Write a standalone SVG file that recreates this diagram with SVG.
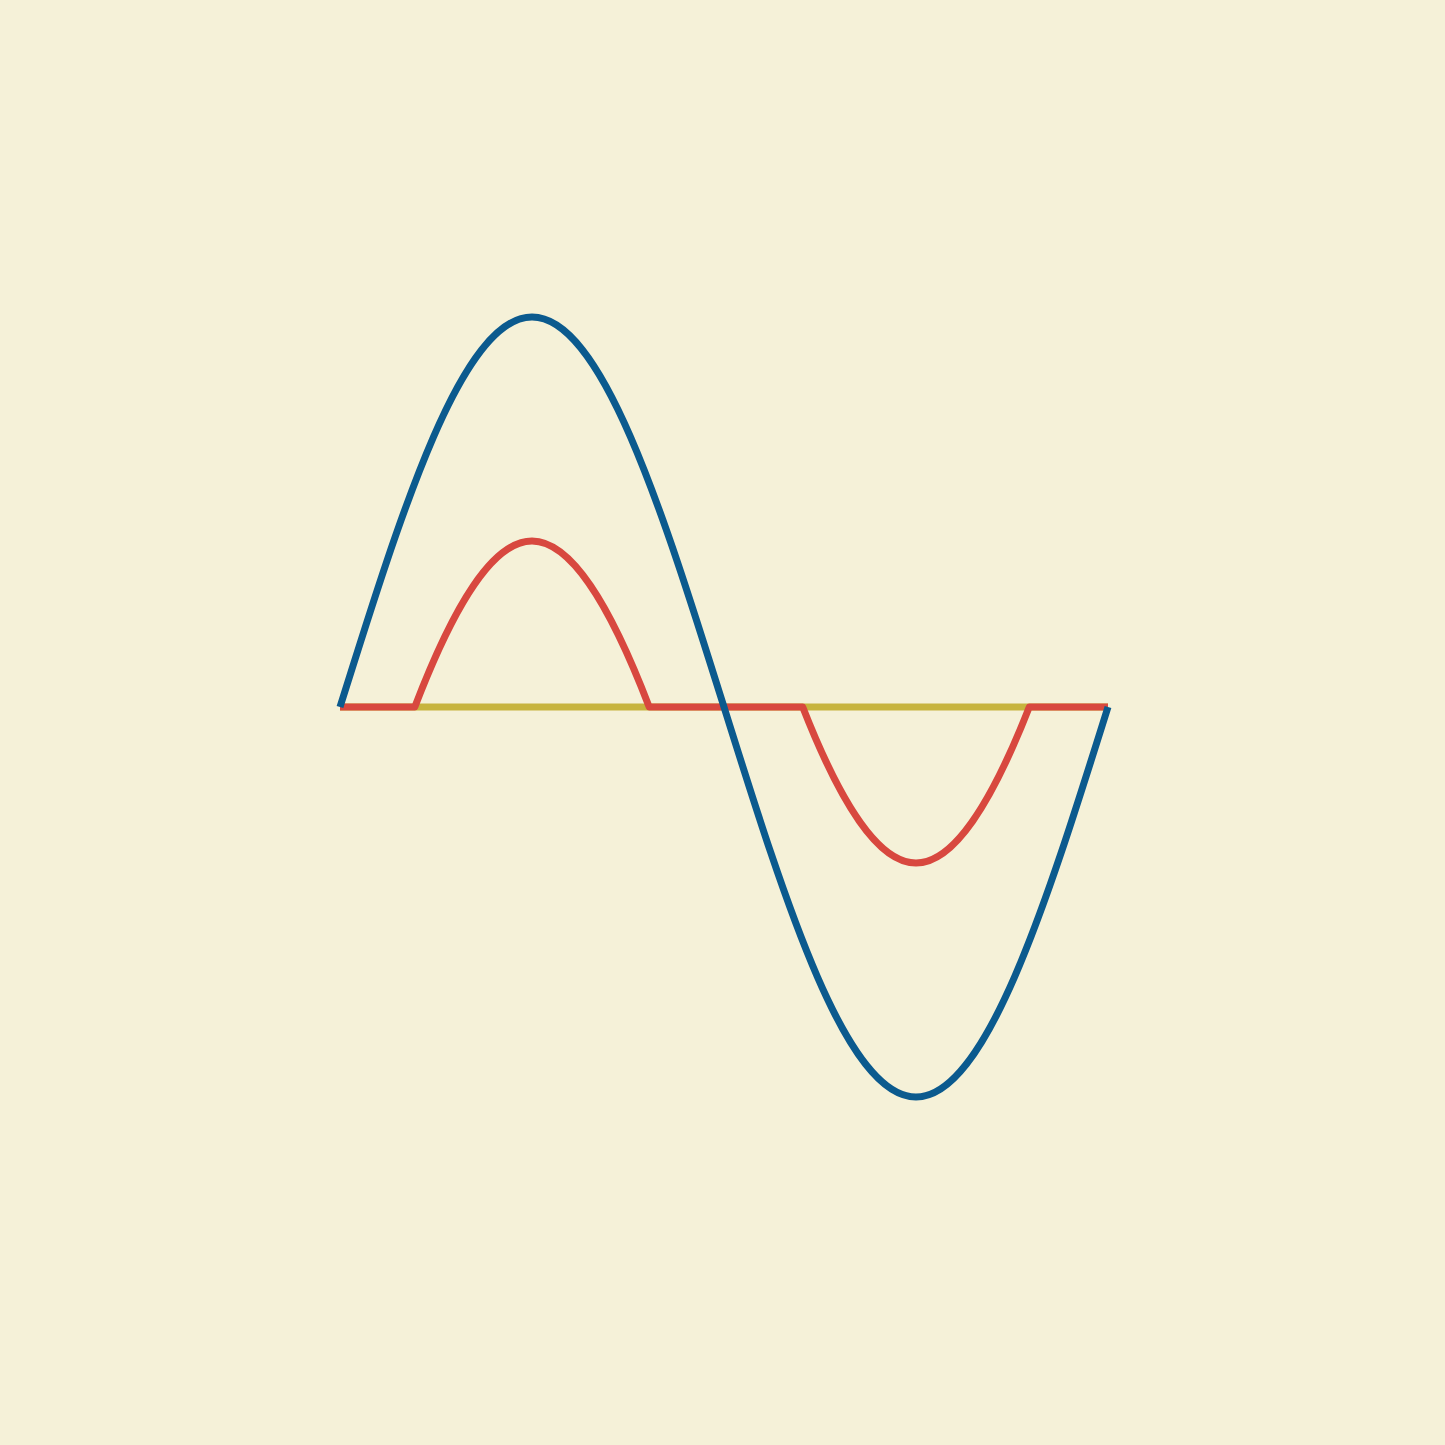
<svg xmlns="http://www.w3.org/2000/svg" width="1445" height="1445" viewBox="0 0 1445 1445">
<style>
.w{fill:none;stroke-width:7;stroke-linejoin:round;stroke-linecap:butt}
.y{stroke:#c7b43e}
.r{stroke:#d8483f}
.b{stroke:#0b5a8e}
</style>
<rect width="1445" height="1445" fill="#f5f1d8"/>
<g id="baseline"><path class="w y" d="M340,707 L1108,707"/></g>
<g id="clipped"><path class="w r" d="M340,707 L414.8,707 C453.9,605 492.9,541 532,541 C571.1,541 610.1,605 649.2,707 L802.7,707 C840.5,803.4 878.2,863 916,863 C953.8,863 991.5,803.4 1029.3,707 L1108,707"/></g>
<g id="sine"><path class="w b" d="M340,707 C402.6,507.2 462.5,317 532,317 C601.5,317 661.4,507.2 724,707 C786.6,906.8 846.5,1097 916,1097 C985.5,1097 1045.4,906.8 1108,707"/></g>
</svg>
